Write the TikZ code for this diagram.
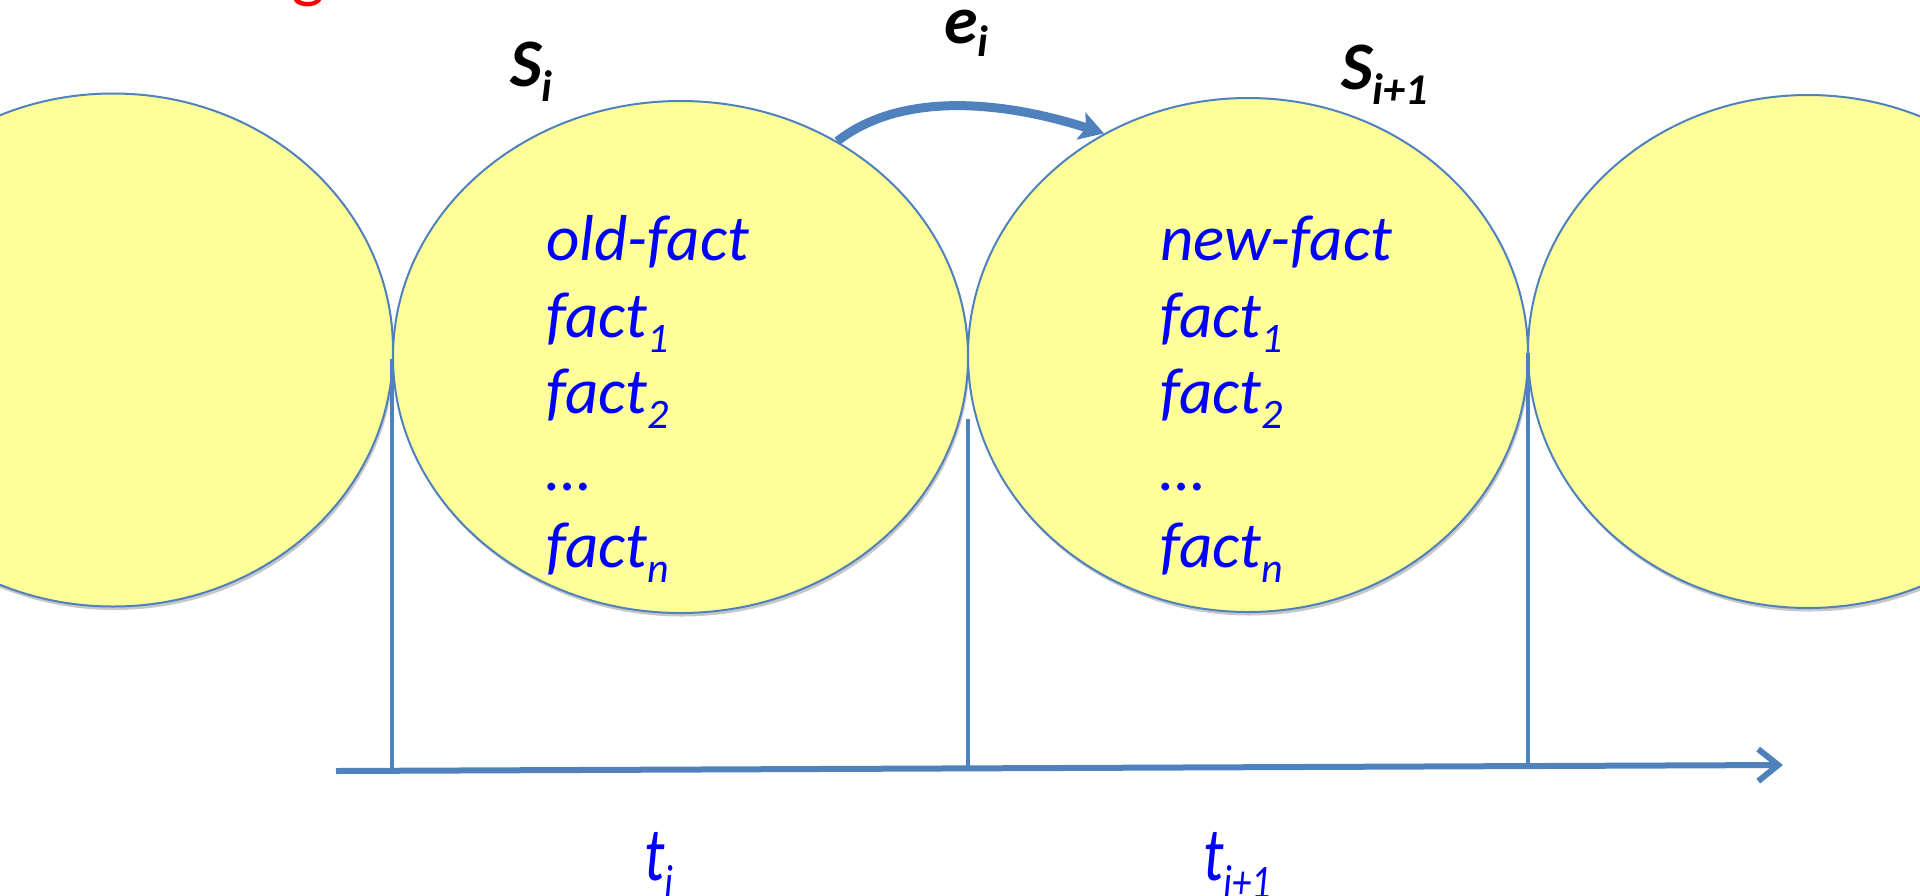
\documentclass[tikz,border=0pt]{standalone}
\usepackage{fontspec}
\setmainfont{Carlito}
\usetikzlibrary{shapes.geometric,arrows.meta,shadows}
\definecolor{lineblue}{HTML}{4F81BD}
\definecolor{fillyellow}{HTML}{FFFF99}
\definecolor{txtblue}{HTML}{0000FF}
\newcommand\mysub[3]{\raisebox{-#1}{\fontsize{#2}{#2}\selectfont #3}}
\begin{document}
\begin{tikzpicture}[x=1pt,y=-1pt,
  st/.style={ellipse, draw=lineblue, line width=2pt, fill=fillyellow, inner sep=0pt,
    drop shadow={shadow xshift=1.5pt, shadow yshift=-3.5pt, opacity=0.22, fill=black}},
  fact/.style={anchor=base west, inner sep=0pt, text=txtblue, font=\fontsize{65}{78}\selectfont\itshape},
  lab/.style={anchor=base west, inner sep=0pt, font=\fontsize{68}{80}\selectfont\bfseries\itshape},
  tlab/.style={anchor=base west, inner sep=0pt, text=txtblue, font=\fontsize{76}{90}\selectfont\itshape},
  tline/.style={draw=lineblue, line width=4.5pt},
]
\useasboundingbox (0,0) rectangle (1920,895);
\clip (0,0) rectangle (1920,895);

% states
\node[st, minimum width=560pt, minimum height=513pt] (s1) at (113,350) {};
\node[st, minimum width=575pt, minimum height=512pt] (s2) at (680.5,357) {};
\node[st, minimum width=560pt, minimum height=514pt] (s3) at (1248,355) {};
\node[st, minimum width=560pt, minimum height=513pt] (s4) at (1808,351.5) {};

% red fragment of a title above the picture
\node[anchor=base west, inner sep=0pt, text=red, font=\fontsize{72}{86}\selectfont] (g) at (291,-6) {g};

% time axis and ticks
\coordinate (ax0) at (336,771);
\coordinate (ax1) at (1783,765);
\coordinate (k1top) at (392,359);
\coordinate (k1bot) at (392,770.8);
\coordinate (k2top) at (968,419);
\coordinate (k2bot) at (968,768.4);
\coordinate (k3top) at (1528,353);
\coordinate (k3bot) at (1528,766.1);
\draw[tline] (k1top) -- (k1bot);
\draw[tline] (k2top) -- (k2bot);
\draw[tline] (k3top) -- (k3bot);
\draw[tline, line width=6pt, -{Straight Barb[length=20pt,width=32pt,line width=6pt]}] (ax0) -- (ax1);

% event arrow
\draw[draw=lineblue, line width=9pt, -{Stealth[length=24pt,width=28pt,inset=5pt]}]
  (s2.54) .. controls (900,92) and (1000,100) .. (s3.123);

% facts in S_i
\node[fact] (o1) at (546,260) {old-fact};
\node[fact] (o2) at (546,337) {fact\mysub{15pt}{42}{1}};
\node[fact] (o3) at (546,413) {fact\mysub{15pt}{42}{2}};
\node[fact] (o4) at (546,490) {…};
\node[fact] (o5) at (546,567) {fact\mysub{15pt}{42}{n}};

% facts in S_{i+1}
\node[fact] (n1) at (1160,260) {new-fact};
\node[fact] (n2) at (1160,337) {fact\mysub{15pt}{42}{1}};
\node[fact] (n3) at (1160,413) {fact\mysub{15pt}{42}{2}};
\node[fact] (n4) at (1160,490) {…};
\node[fact] (n5) at (1160,567) {fact\mysub{15pt}{42}{n}};

% labels
\node[lab] (si) at (510,86) {S\mysub{15pt}{44}{i}};
\node[lab] (si1) at (1341,89) {S\mysub{15pt}{44}{i+1}};
\node[lab] (ei) at (944,43) {e\mysub{13pt}{44}{i}};
\node[tlab] (ti) at (644,880) {\scalebox{0.8}[1]{t\mysub{18pt}{48}{i}}};
\node[tlab] (ti1) at (1203,880) {\scalebox{0.8}[1]{t\mysub{18pt}{48}{i+1}}};
\end{tikzpicture}
\end{document}
